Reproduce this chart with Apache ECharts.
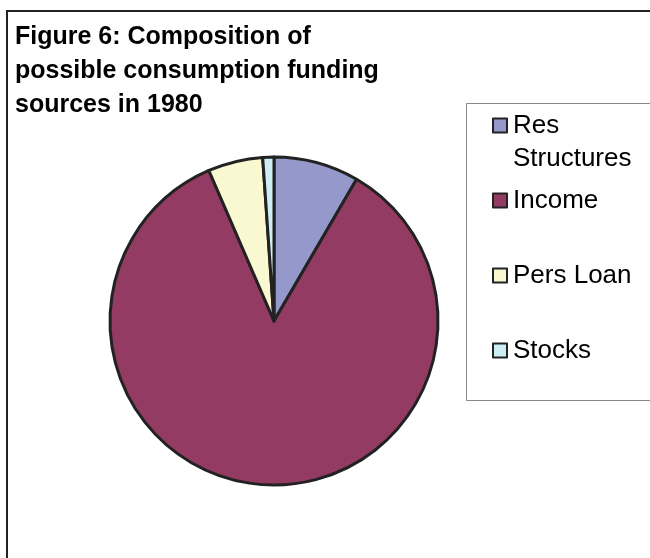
<!DOCTYPE html>
<html>
<head>
<meta charset="utf-8">
<script src="https://cdn.jsdelivr.net/npm/echarts@6/dist/echarts.min.js"></script>
<style>
  html, body { margin: 0; padding: 0; background: #fff; }
  #chart { width: 650px; height: 558px; }
</style>
</head>
<body>
<div id="chart"></div>
<script>
// Funding sources for consumption, 1980 (percent shares)
const categories = ['Res Structures', 'Income', 'Pers Loan', 'Stocks'];
const shares = [8.4, 85.1, 5.4, 1.1];
const sliceColors = ['#9598CA', '#943B63', '#FAF8D0', '#CDEEF2'];
const titleText = 'Figure 6: Composition of\npossible consumption funding\nsources in 1980';

const FONT = '"Liberation Sans", Arial, sans-serif';

const chart = echarts.init(document.getElementById('chart'), null, { renderer: 'canvas' });

// Every entry is three 33px lines tall so the swatch lines up with the first
// word of the wrapped "Res / Structures" entry (blank line above keeps it centred).
const legendData = categories.map(function (name) {
  return { name: name };
});

chart.setOption({
  backgroundColor: '#ffffff',
  animation: false,
  title: {
    text: titleText,
    left: 15,
    top: 20,
    padding: 0,
    textStyle: {
      fontFamily: FONT,
      fontWeight: 'bold',
      fontSize: 25,
      lineHeight: 34,
      color: '#000'
    }
  },
  graphic: [
    {
      type: 'rect',
      shape: { x: 7, y: 11, width: 700, height: 600 },
      style: { fill: 'none', stroke: '#222', lineWidth: 2 },
      silent: true,
      z: 0
    },
    {
      type: 'rect',
      shape: { x: 466.5, y: 103.5, width: 200, height: 297 },
      style: { fill: 'none', stroke: '#888', lineWidth: 1 },
      silent: true,
      z: 0
    }
  ],
  legend: {
    orient: 'vertical',
    left: 492,
    top: 76,
    padding: 0,
    itemGap: -24,
    itemWidth: 14,
    itemHeight: 14,
    icon: 'rect',
    selectedMode: false,
    itemStyle: { borderColor: '#222', borderWidth: 2 },
    textStyle: {
      fontFamily: FONT,
      fontSize: 26,
      lineHeight: 33,
      padding: [0, 0, 0, 1],
      color: '#000'
    },
    formatter: function (name) {
      return name === 'Res Structures' ? '\nRes\nStructures' : '\n' + name + '\n';
    },
    data: legendData
  },
  series: [
    {
      type: 'pie',
      center: [274, 321],
      radius: [0, 164],
      startAngle: 90,
      clockwise: true,
      silent: true,
      label: { show: false },
      labelLine: { show: false },
      emphasis: { disabled: true },
      itemStyle: { borderColor: '#222', borderWidth: 3 },
      data: categories.map(function (name, i) {
        return { name: name, value: shares[i], itemStyle: { color: sliceColors[i] } };
      })
    }
  ]
});
</script>
</body>
</html>
